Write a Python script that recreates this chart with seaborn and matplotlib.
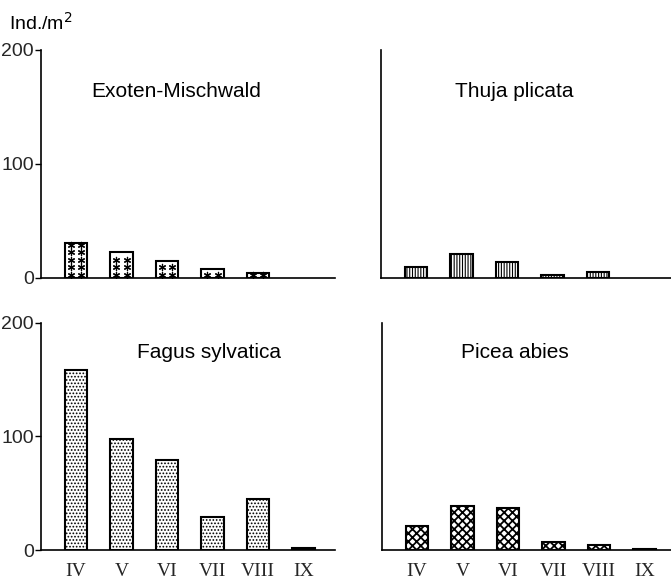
import matplotlib
matplotlib.use("Agg")
import matplotlib.pyplot as plt
import seaborn as sns
import pandas as pd

# Monthly abundance (individuals per m²) in four forest stands
months = ["IV", "V", "VI", "VII", "VIII", "IX"]
exoten = [31, 23, 15, 8, 4.5, 0]
thuja = [10, 21, 14, 3, 5.5, 0]
fagus = [159, 98, 79, 29, 45, 1.5]
picea = [21, 39, 37, 7, 4.5, 1]

titles = ["Exoten-Mischwald", "Thuja plicata", "Fagus sylvatica", "Picea abies"]
series = [exoten, thuja, fagus, picea]
hatches = [None, "||||||", ".....", "xxxx"]
hatch_widths = [0.8, 0.8, 0.8, 1.3]
yticks = [0, 100, 200]

sns.set_theme(style="white")
plt.rcParams["font.family"] = ["Liberation Sans", "DejaVu Sans"]
plt.rcParams["hatch.linewidth"] = 0.8
plt.rcParams["hatch.color"] = "black"

fig = plt.figure(figsize=(6.71, 5.83), dpi=100)

# axes boxes in figure fractions: left, bottom, width, height
boxes = [
    [0.0611, 0.5232, 0.4382, 0.3911],
    [0.5678, 0.5232, 0.4322, 0.3911],
    [0.0611, 0.0566, 0.4382, 0.3894],
    [0.5693, 0.0566, 0.4307, 0.3894],
]
title_pos = [(0.46, 0.82), (0.46, 0.82), (0.57, 0.87), (0.46, 0.87)]

for i, (box, title, vals) in enumerate(zip(boxes, titles, series)):
    ax = fig.add_axes(box)
    df = pd.DataFrame({"month": months, "n": vals})
    sns.barplot(data=df, x="month", y="n", order=months, color="white",
                edgecolor="black", linewidth=1.5, width=0.5, ax=ax,
                saturation=1)
    for p in ax.patches:
        p.set_facecolor("white")
        p.set_edgecolor("black")
        if hatches[i]:
            p.set_hatch(hatches[i])
            if hasattr(p, "set_hatch_linewidth"):
                p.set_hatch_linewidth(hatch_widths[i])
        if p.get_height() <= 0:
            p.set_visible(False)
    if hatches[i] is None:
        # asterisk fill: two columns per bar, rows stacked from the base
        xs, ys = [], []
        for p in ax.patches:
            h = p.get_height()
            x0, w = p.get_x(), p.get_width()
            y = 3.0
            while h > 0 and y <= h - 1.5:
                xs += [x0 + 0.27 * w, x0 + 0.73 * w]
                ys += [y, y]
                y += 6.5
        ax.scatter(xs, ys, marker=(6, 2, 0), s=20, color="black",
                   linewidths=0.9, zorder=5)
    span = box[2] * 671 / 45.5
    ax.set_xlim(-0.77, -0.77 + span)
    ax.set_ylim(0, 200)
    ax.set_xlabel("")
    ax.set_ylabel("")
    for s in ["top", "right"]:
        ax.spines[s].set_visible(False)
    for s in ["left", "bottom"]:
        ax.spines[s].set_color("black")
        ax.spines[s].set_linewidth(1.2)
    ax.tick_params(axis="x", length=0, pad=9)
    if i >= 2:
        ax.set_xticks(range(len(months)))
        ax.set_xticklabels(months, family=["Liberation Serif", "DejaVu Serif"],
                           fontsize=14)
    else:
        ax.set_xticks([])
    if i % 2 == 0:
        ax.set_yticks(yticks)
        ax.set_yticklabels([str(t) for t in yticks], fontsize=14)
        ax.tick_params(axis="y", left=True, length=4, width=1.0,
                       color="black", pad=1, direction="out")
    else:
        ax.set_yticks([])
    ax.text(title_pos[i][0], title_pos[i][1], title, transform=ax.transAxes,
            ha="center", va="center", fontsize=15, color="black")

fig.text(9 / 671, 1 - 23 / 583, "Ind./m$^{2}$", ha="left", va="center",
         fontsize=14, color="black")

fig.savefig("out.png", dpi=100, facecolor="white")
